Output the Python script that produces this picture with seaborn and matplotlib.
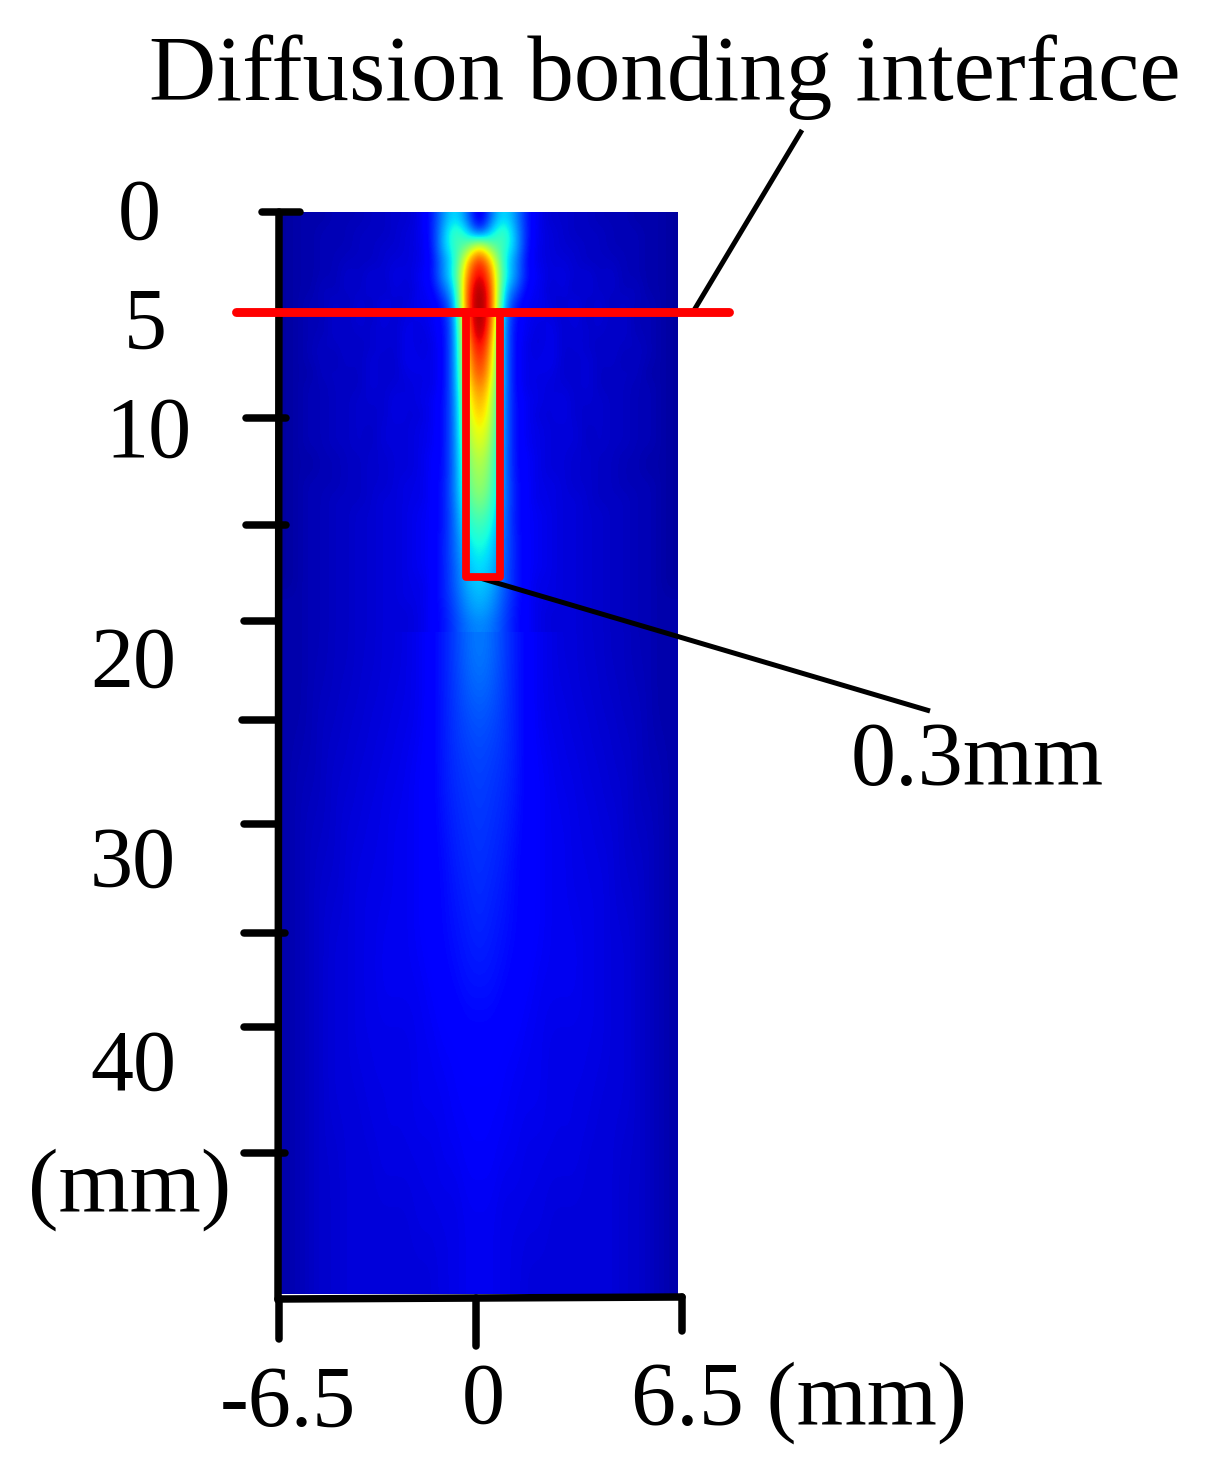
import numpy as np
import pandas as pd
import matplotlib
matplotlib.use("Agg")
import matplotlib.pyplot as plt
import seaborn as sns

# field strength, in percent of the jet scale
# each row goes from the centre of the beam out to the edge, the picture is mirrored about x=0
near_rows = [
    [6, 24, 36, 27, 14, 9, 7, 7, 6, 6, 5, 5, 5, 4, 4, 4, 3],
    [18, 35, 45, 30, 14, 9, 8, 7, 6, 6, 6, 5, 5, 5, 4, 4, 3],
    [70, 48, 42, 31, 13, 9, 8, 7, 7, 6, 6, 5, 5, 5, 4, 4, 3],
    [90, 70, 38, 26, 12, 9, 8, 8, 7, 6, 6, 6, 5, 5, 4, 4, 3],
    [95, 78, 40, 27, 13, 10, 8, 9, 7, 8, 6, 7, 5, 5, 4, 4, 3],
    [100, 84, 34, 22, 11, 10, 7, 9, 6, 8, 6, 7, 5, 6, 4, 4, 3],
    [100, 86, 30, 15, 10, 10, 8, 7, 9, 6, 8, 5, 7, 5, 5, 4, 3],
    [100, 85, 27, 13, 10, 9, 9, 7, 9, 6, 8, 6, 7, 5, 5, 4, 3],
    [100, 80, 26, 12, 10, 8, 10, 7, 8, 7, 7, 6, 7, 5, 5, 4, 3],
    [95, 75, 26, 12, 9, 8, 10, 7, 8, 7, 6, 7, 6, 6, 5, 4, 3],
    [90, 72, 26, 12, 9, 9, 10, 7, 7, 8, 6, 7, 5, 6, 5, 4, 3],
    [86, 69, 26, 12, 9, 9, 9, 7, 7, 8, 6, 6, 6, 6, 4, 4, 3],
    [80, 65, 26, 12, 9, 9, 8, 8, 7, 8, 6, 6, 6, 5, 5, 4, 3],
    [75, 62, 25, 13, 10, 9, 8, 9, 7, 7, 7, 6, 6, 5, 5, 4, 3],
    [71, 60, 25, 13, 10, 8, 8, 9, 7, 7, 7, 6, 6, 5, 5, 4, 3],
    [67, 57, 25, 13, 10, 9, 8, 8, 8, 6, 7, 6, 6, 5, 5, 4, 3],
    [64, 54, 25, 13, 10, 9, 8, 8, 8, 6, 7, 6, 6, 5, 5, 4, 3],
    [60, 51, 25, 13, 11, 9, 8, 8, 7, 7, 6, 6, 5, 5, 4, 4, 3],
    [57, 49, 25, 13, 11, 9, 8, 8, 7, 7, 6, 6, 5, 5, 4, 4, 3],
    [55, 47, 25, 14, 11, 9, 9, 8, 7, 7, 6, 6, 5, 5, 5, 4, 3],
    [52, 44, 25, 14, 11, 9, 9, 8, 8, 7, 6, 6, 6, 5, 5, 4, 3],
    [47, 41, 24, 14, 11, 10, 9, 8, 8, 7, 7, 6, 6, 5, 5, 4, 3],
    [43, 38, 24, 14, 11, 10, 9, 8, 8, 7, 7, 6, 6, 5, 5, 4, 3],
    [40, 35, 23, 15, 11, 10, 9, 8, 8, 7, 7, 6, 6, 5, 5, 4, 3],
    [37, 33, 23, 15, 11, 10, 9, 8, 8, 7, 7, 6, 6, 5, 5, 4, 3],
    [35, 31, 22, 15, 11, 10, 9, 8, 8, 7, 7, 6, 6, 5, 5, 4, 3],
    [33, 30, 22, 15, 11, 9, 9, 8, 8, 7, 7, 6, 6, 5, 5, 4, 3],
    [31, 28, 21, 15, 11, 9, 9, 8, 8, 7, 7, 6, 6, 5, 5, 4, 4],
    [29, 26, 20, 14, 11, 9, 8, 8, 8, 7, 7, 6, 6, 5, 5, 4, 4],
    [26, 24, 19, 14, 11, 9, 8, 8, 8, 7, 7, 6, 6, 5, 5, 4, 4],
]
far_rows = [
    [25, 23, 19, 15, 12, 10, 9, 8, 8, 7, 7, 6, 6, 5, 5, 4, 4],
    [21, 20, 18, 15, 12, 10, 9, 9, 8, 8, 7, 7, 6, 6, 5, 4, 4],
    [19, 18, 17, 15, 12, 11, 10, 9, 9, 8, 8, 7, 7, 6, 5, 5, 4],
    [18, 17, 16, 14, 12, 11, 10, 10, 9, 9, 8, 8, 7, 6, 6, 5, 4],
    [17, 16, 15, 13, 12, 11, 10, 10, 9, 9, 9, 8, 7, 7, 6, 5, 4],
    [16, 15, 14, 13, 12, 11, 10, 10, 10, 9, 9, 8, 8, 7, 6, 5, 4],
    [14, 14, 13, 12, 11, 10, 10, 10, 10, 9, 9, 8, 8, 7, 6, 5, 4],
    [12, 12, 11, 11, 10, 10, 9, 9, 9, 9, 9, 8, 8, 7, 6, 5, 4],
    [11, 11, 11, 10, 10, 10, 9, 9, 9, 9, 8, 8, 8, 7, 6, 5, 4],
    [11, 11, 10, 10, 9, 9, 9, 9, 9, 8, 8, 8, 7, 7, 6, 5, 4],
    [10, 10, 9, 9, 9, 9, 8, 8, 8, 8, 8, 8, 7, 7, 6, 5, 4],
    [10, 10, 9, 9, 8, 8, 8, 8, 8, 8, 8, 8, 7, 7, 6, 5, 4],
]

depth_labels = ["0", "5", "10", "20", "30", "40"]
width_labels = ["-6.5", "0", "6.5 (mm)"]

W, H = 1219, 1470


def px_axes(fig, left, top, right, bottom):
    return fig.add_axes([left / W, 1 - bottom / H, (right - left) / W, (bottom - top) / H])


def draw_field(ax, half_rows):
    half = np.array(half_rows, dtype=float)
    full = np.hstack([half[:, :0:-1], half])
    df = pd.DataFrame(full)
    sns.heatmap(df, ax=ax, cmap="jet", vmin=0, vmax=100, cbar=False,
                xticklabels=False, yticklabels=False)
    # same values again on top of the cells, smoothed only when drawn
    ax.imshow(df.values, cmap="jet", vmin=0, vmax=100, aspect="auto",
              interpolation="bicubic", interpolation_stage="data",
              extent=(0, full.shape[1], full.shape[0], 0), zorder=3)
    ax.set_xlim(0, full.shape[1])
    ax.set_ylim(full.shape[0], 0)
    ax.axis("off")


plt.rcParams["font.family"] = ["Liberation Serif", "DejaVu Serif"]
fig = plt.figure(figsize=(W / 100, H / 100), dpi=100, facecolor="white")

ax_near = px_axes(fig, 281, 212, 678, 632)
draw_field(ax_near, near_rows)
ax_far = px_axes(fig, 281, 632, 678, 1294)
draw_field(ax_far, far_rows)

# overlay in picture pixels for the hand drawn axes and call-outs
ov = fig.add_axes([0, 0, 1, 1])
ov.set_xlim(0, W)
ov.set_ylim(H, 0)
ov.axis("off")
ov.patch.set_alpha(0)

black = dict(color="black", lw=5.4, solid_capstyle="round")
ov.plot([279, 278], [212, 1300], **black)
ov.plot([278, 682], [1299, 1297], **black)
ov.plot([279, 279], [1298, 1339], **black)
ov.plot([476, 476], [1298, 1346], **black)
ov.plot([682, 682], [1297, 1331], **black)

for y, x0, x1 in [(212, 262, 300), (418, 246, 286), (525, 246, 286), (621, 244, 278),
                  (720, 242, 278), (824, 244, 278), (933, 244, 285), (1027, 244, 278),
                  (1153, 244, 285)]:
    ov.plot([x0, x1], [y, y], **black)

ov.plot([802, 693], [130, 312], color="black", lw=3.6, solid_capstyle="butt")
ov.plot([480, 930], [578, 711], color="black", lw=3.6, solid_capstyle="butt")

ov.plot([236, 729], [312, 312], color="#ff0000", lw=6.4, solid_capstyle="round")
ov.plot([466, 466, 500, 500], [312, 577, 577, 312], color="#ff0000", lw=5.6,
        solid_joinstyle="round")

fs = 62
for label, (x, y) in zip(depth_labels, [(139, 218), (145, 327), (148, 436),
                                        (133, 666), (133, 866), (133, 1069)]):
    ov.text(x, y, label, fontsize=fs, ha="center", va="center")
ov.text(130, 1190, "(mm)", fontsize=fs + 4, ha="center", va="center")
ov.text(288, 1405, width_labels[0], fontsize=fs, ha="center", va="center")
ov.text(483, 1402, width_labels[1], fontsize=fs, ha="center", va="center")
ov.text(799, 1403, width_labels[2], fontsize=fs + 3, ha="center", va="center")
ov.text(977, 763, "0.3mm", fontsize=fs + 3, ha="center", va="center")
ov.text(665, 77, "Diffusion bonding interface", fontsize=fs + 5, ha="center", va="center")

fig.savefig("out.png", dpi=100, facecolor="white")
